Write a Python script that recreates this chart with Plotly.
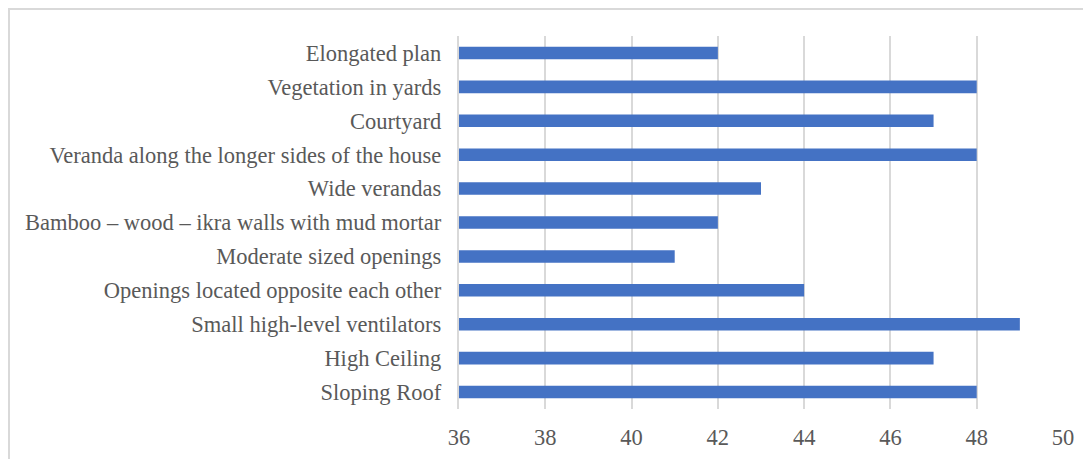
import plotly.graph_objects as go

categories = [
    "Elongated plan",
    "Vegetation in yards",
    "Courtyard",
    "Veranda along the longer sides of the house",
    "Wide verandas",
    "Bamboo – wood – ikra walls with mud mortar",
    "Moderate sized openings",
    "Openings located opposite each other",
    "Small high-level ventilators",
    "High Ceiling",
    "Sloping Roof",
]
values = [42, 48, 47, 48, 43, 42, 41, 44, 49, 47, 48]
x_ticks = [36, 38, 40, 42, 44, 46, 48, 50]

FONT = "Liberation Serif, Times New Roman, serif"
FS = 22.5

W, H = 1083, 451
L, R, T, B = 451, 28, 28, 50
PW, PH = W - L - R, H - T - B

fig = go.Figure(
    go.Bar(
        y=categories,
        x=values,
        orientation="h",
        marker=dict(color="#4472C4", line=dict(width=0)),
        width=0.37,
    )
)

fig.update_layout(
    width=W,
    height=H,
    margin=dict(l=L, r=R, t=T, b=B, autoexpand=False),
    paper_bgcolor="white",
    plot_bgcolor="white",
    showlegend=False,
    font=dict(family=FONT, size=FS, color="#595959"),
)

fig.update_xaxes(
    range=[36, 50],
    tickvals=x_ticks,
    showgrid=True,
    gridcolor="#D9D9D9",
    gridwidth=2,
    zeroline=False,
    showline=False,
    ticks="",
    ticklabelstandoff=12,
    automargin=False,
    tickfont=dict(family=FONT, size=FS, color="#595959"),
)
fig.update_yaxes(
    categoryorder="array",
    categoryarray=categories[::-1],
    showline=True,
    linecolor="#D9D9D9",
    linewidth=2,
    ticks="",
    automargin=False,
    tickfont=dict(family=FONT, size=FS, color="#595959"),
    ticksuffix="  ",
)

# outer chart border (only top and left visible in the crop)
fig.add_shape(
    type="rect", xref="paper", yref="paper",
    x0=(-L + 1) / PW, x1=1.2, y0=-0.3, y1=1 + (T - 1) / PH,
    line=dict(color="#D9D9D9", width=2), fillcolor="rgba(0,0,0,0)",
    layer="below",
)

fig.write_html("out.html")
